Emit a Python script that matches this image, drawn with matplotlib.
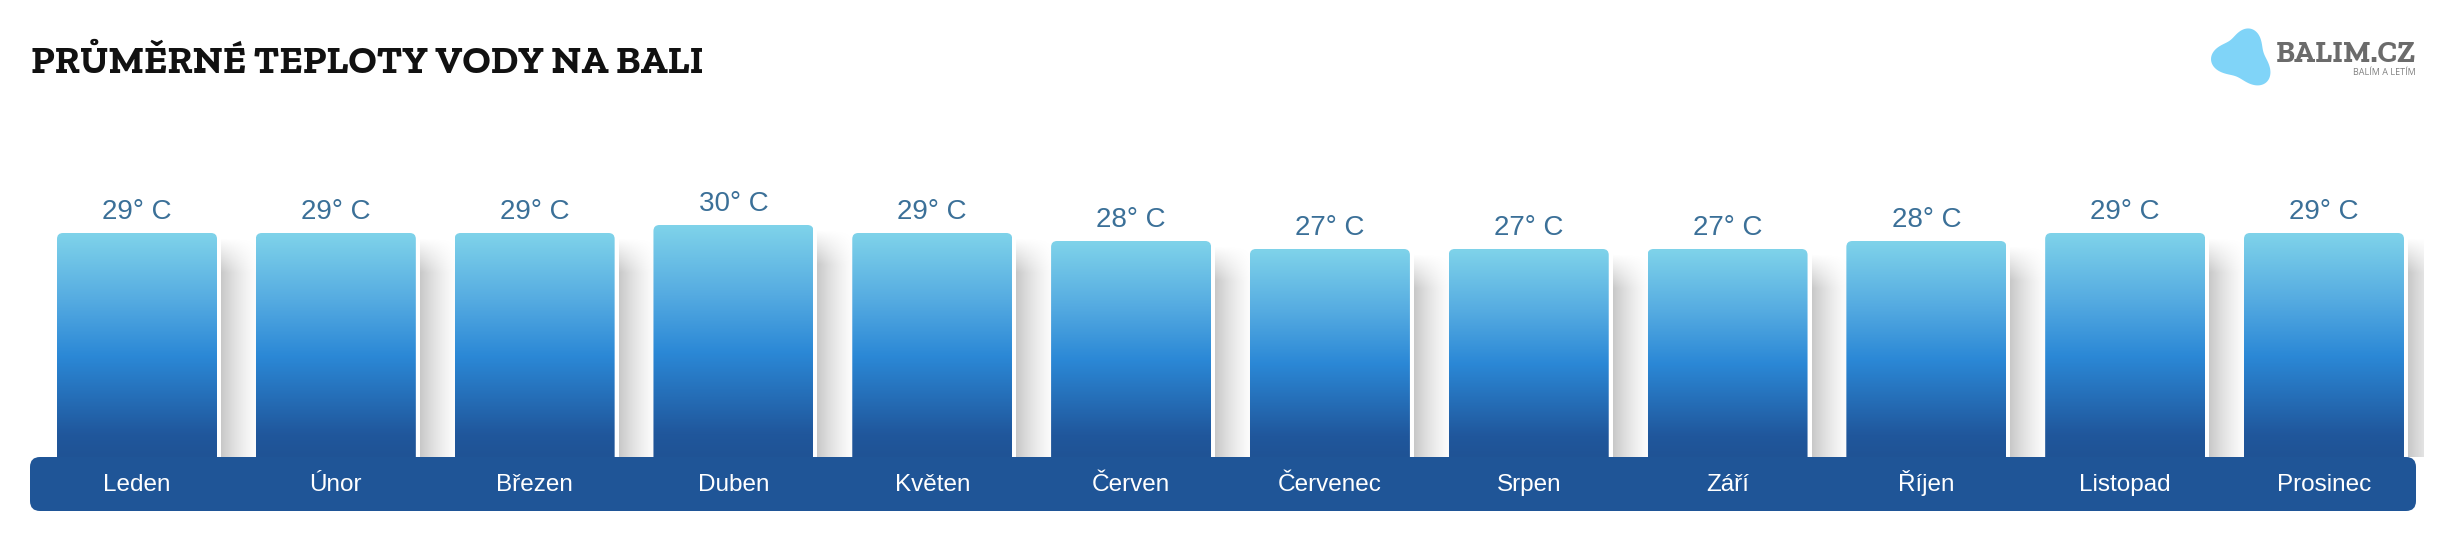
import numpy as np
import matplotlib
matplotlib.use("Agg")
import matplotlib.pyplot as plt
from matplotlib.patches import FancyBboxPatch, Polygon
from matplotlib.colors import LinearSegmentedColormap
from matplotlib import font_manager as fm

# ---------------- data ----------------
months = ["Leden", "Únor", "Březen", "Duben", "Květen", "Červen",
          "Červenec", "Srpen", "Září", "Říjen", "Listopad", "Prosinec"]
temps = [29, 29, 29, 30, 29, 28, 27, 27, 27, 28, 29, 29]
value_labels = [f"{t}° C" for t in temps]
title = "PRŮMĚRNÉ TEPLOTY VODY NA BALI"
logo_main = "BALIM.CZ"
logo_sub = "BALÍM A LETÍM"

available = {f.name for f in fm.fontManager.ttflist}


def pick(cands):
    for c in cands:
        if c in available:
            return c
    return "DejaVu Sans"


slab_font = pick(["Zilla Slab", "Rokkitt", "DejaVu Serif"])
sans_font = pick(["Arimo", "Liberation Sans", "DejaVu Sans"])
small_font = pick(["Open Sans", "DejaVu Sans"])

# ---------------- layout ----------------
W, H = 2446, 552
fig = plt.figure(figsize=(W / 100, H / 100), dpi=100)
fig.patch.set_facecolor("white")


def fx(px):
    return px / W


def fy(py):
    return 1 - py / H


ax_left, ax_right = 37.6, 2423.4
ax_top, ax_bot = 150, 457
PXY = 8.0
ax = fig.add_axes([fx(ax_left), fy(ax_bot), (ax_right - ax_left) / W, (ax_bot - ax_top) / H])
ax.patch.set_visible(False)
ax.axis("off")
ymin = 1.0
ymax = ymin + (ax_bot - ax_top) / PXY
n = len(months)
PXX = (ax_right - ax_left) / n
x = np.arange(n)
bar_w = 160 / PXX

bars = ax.bar(x, temps, width=bar_w, color="none", edgecolor="none")

cmap = LinearSegmentedColormap.from_list(
    "water",
    [(0.0, "#1f5395"), (0.1, "#20579c"), (0.45, "#2b88d6"), (0.7, "#55abe1"), (1.0, "#7fd3ea")],
)
grad = np.linspace(0, 1, 256).reshape(-1, 1)

rx = 6 / PXX
ry = 6 / PXY
for b in bars:
    x0 = b.get_x()
    w = b.get_width()
    h = b.get_height()
    # soft shadow to the right of the bar
    sx0 = x0 + w + 4 / PXX
    sx1 = x0 + w + 46 / PXX
    stop = h - 4 / PXY
    nx, ny = 60, 120
    tx = np.linspace(0, 1, nx)
    ty = np.linspace(0, 1, ny)
    ah = 0.22 * (1 - tx) ** 1.5
    span_px = (stop - ymin) * PXY
    dist_top = (1 - ty) * span_px
    av = np.clip(dist_top / 35.0, 0, 1)
    rgba = np.zeros((ny, nx, 4))
    rgba[..., 3] = av[:, None] * ah[None, :]
    ax.imshow(rgba, extent=[sx0, sx1, ymin, stop], origin="lower", aspect="auto",
              zorder=1, interpolation="bilinear")
    # gradient fill with rounded top corners
    clip = FancyBboxPatch((x0, ymin - 3), w, h - ymin + 3,
                          boxstyle=f"round,pad=0,rounding_size={rx}",
                          mutation_aspect=ry / rx, transform=ax.transData,
                          facecolor="none", edgecolor="none")
    ax.add_patch(clip)
    im = ax.imshow(grad, extent=[x0, x0 + w, ymin, h], origin="lower", aspect="auto",
                   cmap=cmap, vmin=0, vmax=1, zorder=2, interpolation="bilinear")
    im.set_clip_path(clip)

ax.set_xlim(-0.5, n - 0.5)
ax.set_ylim(ymin, ymax)

# value labels
for xi, t, lab in zip(x, temps, value_labels):
    ax.annotate(lab, xy=(xi, t), xytext=(0, 10), textcoords="offset points",
                ha="center", va="baseline", fontsize=20, color="#3b7098",
                family=sans_font, zorder=6)

# bottom band with month names
band = FancyBboxPatch((fx(30), fy(511)), (2416 - 30) / W, 54 / H,
                      boxstyle=f"round,pad=0,rounding_size={10 / W}",
                      mutation_aspect=W / H, transform=fig.transFigure,
                      facecolor="#1f5597", edgecolor="none", zorder=4)
band.set_clip_on(False)
ax.add_artist(band)

month_y = (ax_bot - 491) / (ax_bot - ax_top)
for xi, m in zip(x, months):
    ax.text(xi, month_y, m, transform=ax.get_xaxis_transform(), ha="center", va="baseline",
            fontsize=17.5, color="white", family=sans_font, zorder=7)

# title
fig.text(fx(31), fy(73), title, ha="left", va="baseline", fontsize=28.5,
         fontweight="bold", family=[slab_font, "DejaVu Serif"], color="#111111")

# logo blob (decorative)
blob_col = "#80d4f8"
cx, cy = 2244.0, 58.0
th = np.linspace(0, 2 * np.pi, 400, endpoint=False)
r = np.full_like(th, 18.0)
for ang, amp in [(77, 12.0), (183, 15.0), (-47, 15.0)]:
    d = np.angle(np.exp(1j * (th - np.deg2rad(ang))))
    r += amp * np.exp(-(d / np.deg2rad(28)) ** 2 / 2)
px = cx + r * np.cos(th)
py = cy - r * np.sin(th)
fig.add_artist(Polygon(np.column_stack([px / W, 1 - py / H]), closed=True,
                       transform=fig.transFigure, facecolor=blob_col, edgecolor="none"))
fig.text(fx(2416), fy(62), logo_main, ha="right", va="baseline", fontsize=22,
         fontweight="bold", family=[slab_font, "DejaVu Serif"], color="#6b6b6b")
fig.text(fx(2416), fy(75), logo_sub, ha="right", va="baseline", fontsize=6.5,
         family=small_font, color="#808080")

fig.savefig("out.png", dpi=100, facecolor="white")
